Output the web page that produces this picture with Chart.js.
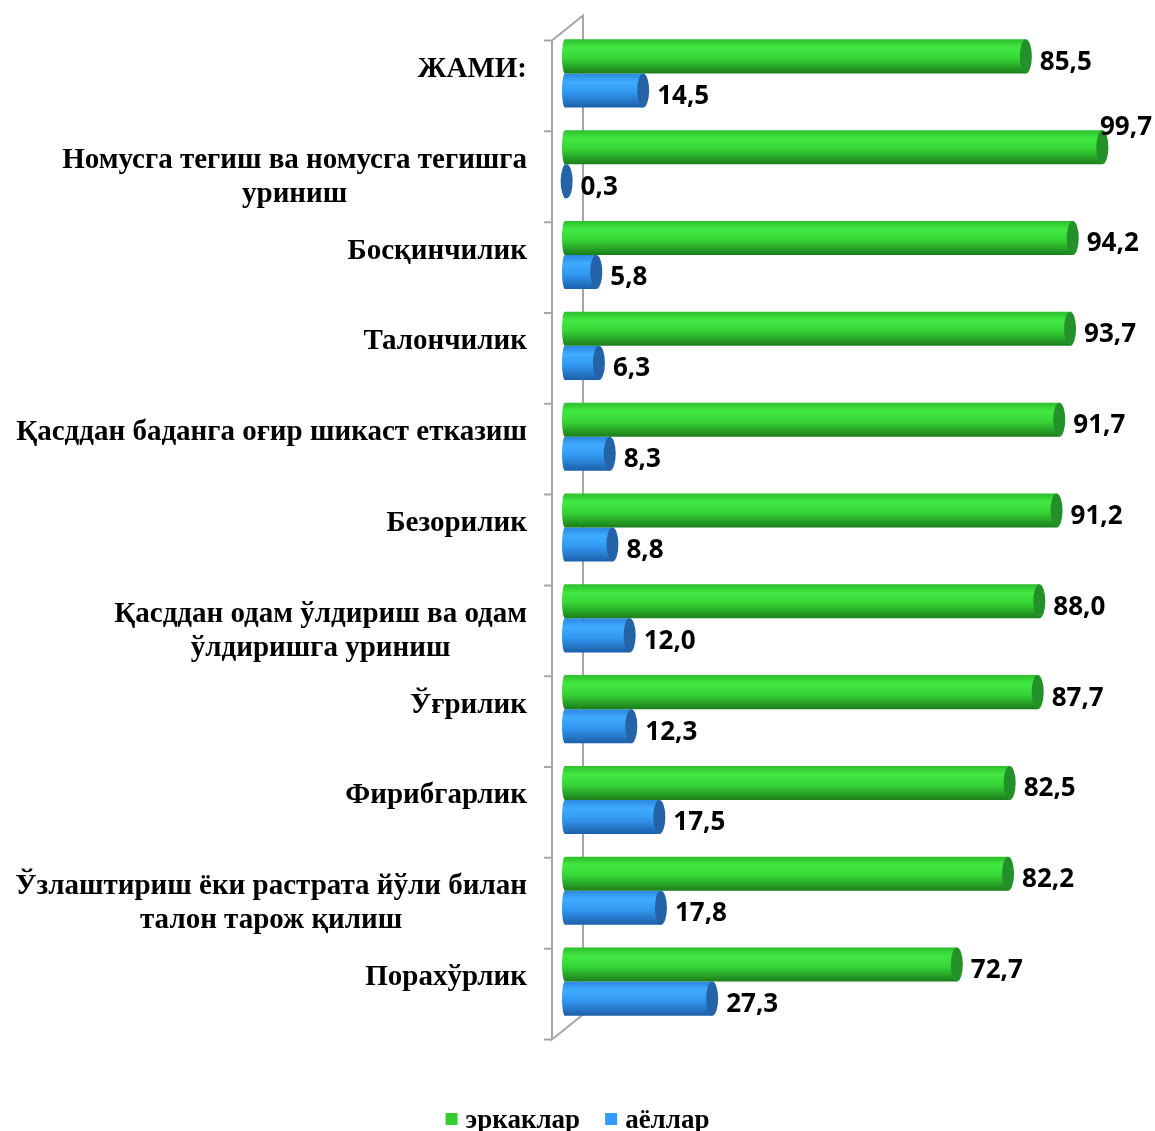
<!DOCTYPE html>
<html>
<head>
<meta charset="utf-8">
<script src="https://cdn.jsdelivr.net/npm/chart.js@4.4.0/dist/chart.umd.min.js"></script>
<style>
  html, body { margin: 0; padding: 0; background: #fff; overflow: hidden; }
  canvas { display: block; }
</style>
</head>
<body>
<canvas id="crimeChart" width="1155" height="1131"></canvas>
<script>
// categories (top to bottom)
const categories = [
  'ЖАМИ:',
  ['Номусга тегиш ва номусга тегишга', 'уриниш'],
  'Босқинчилик',
  'Талончилик',
  'Қасддан баданга оғир шикаст етказиш',
  'Безорилик',
  ['Қасддан одам ўлдириш ва одам', 'ўлдиришга уриниш'],
  'Ўғрилик',
  'Фирибгарлик',
  ['Ўзлаштириш ёки растрата йўли билан', 'талон тарож қилиш'],
  'Порахўрлик'
];

// percent values per series
const menValues = [85.5, 99.7, 94.2, 93.7, 91.7, 91.2, 88.0, 87.7, 82.5, 82.2, 72.7];
const womenValues = [14.5, 0.3, 5.8, 6.3, 8.3, 8.8, 12.0, 12.3, 17.5, 17.8, 27.3];
const seriesNames = ['эркаклар', 'аёллар'];

const serifFont = '"Liberation Serif", "DejaVu Serif", serif';
const sansFont = '"Open Sans", "Liberation Sans", sans-serif';

// cylinder shading for each series
const shades = [
  [[0, '#2cbf2c'], [0.25, '#41e841'], [0.55, '#37d637'], [1, '#1b7d1b']],
  [[0, '#2c88e2'], [0.25, '#3eabff'], [0.55, '#3399f2'], [1, '#1c5fab']]
];
const capColors = ['#23902a', '#2463a6'];
const legendColors = ['#33cc33', '#3399ff'];
const CAP_RX = 6;

function makeGradient(ctx, top, bottom, stops) {
  const g = ctx.createLinearGradient(0, top, 0, bottom);
  stops.forEach(s => g.addColorStop(s[0], s[1]));
  return g;
}

function formatValue(v) {
  return v.toFixed(1).replace('.', ',');
}

// 3D wall, cylinder ends, labels and legend
const wallPlugin = {
  id: 'wall',
  beforeDatasetsDraw(chart) {
    const ctx = chart.ctx;
    const area = chart.chartArea;
    const x0 = chart.scales.x.getPixelForValue(0);
    const frontX = x0 - 13, backX = x0 + 18;
    const dy = 12.5;
    const n = categories.length;
    const step = (area.bottom - area.top) / n;

    ctx.save();
    ctx.strokeStyle = '#a6a6a6';
    ctx.lineWidth = 2;
    ctx.beginPath();
    ctx.moveTo(frontX, area.top + dy);
    ctx.lineTo(frontX, area.bottom + dy);
    ctx.lineTo(backX, area.bottom - dy);
    ctx.lineTo(backX, area.top - dy);
    ctx.lineTo(frontX, area.top + dy);
    ctx.stroke();

    // small ticks between categories
    ctx.beginPath();
    for (let k = 0; k <= n; k++) {
      const y = area.top + dy + k * step;
      ctx.moveTo(frontX - 8, y);
      ctx.lineTo(frontX, y);
    }
    ctx.stroke();
    ctx.restore();

    // give each bar its own vertical gradient
    chart.data.datasets.forEach((ds, i) => {
      chart.getDatasetMeta(i).data.forEach(bar => {
        const top = bar.y - bar.height / 2;
        const bottom = bar.y + bar.height / 2;
        bar.options.backgroundColor = makeGradient(ctx, top, bottom, shades[i]);
      });
    });
  },
  afterDatasetsDraw(chart) {
    const ctx = chart.ctx;
    ctx.save();
    chart.data.datasets.forEach((ds, i) => {
      chart.getDatasetMeta(i).data.forEach((bar, j) => {
        const top = bar.y - bar.height / 2;
        const bottom = bar.y + bar.height / 2;
        const ry = bar.height / 2;

        // rounded left end
        ctx.fillStyle = makeGradient(ctx, top, bottom, shades[i]);
        ctx.beginPath();
        ctx.ellipse(bar.base, bar.y, 3, ry, 0, Math.PI / 2, Math.PI * 1.5);
        ctx.fill();

        // end cap
        ctx.fillStyle = capColors[i];
        ctx.beginPath();
        ctx.ellipse(bar.x, bar.y, CAP_RX, ry, 0, 0, Math.PI * 2);
        ctx.fill();

        // value label
        const txt = formatValue(ds.data[j]);
        ctx.font = 'bold 26px ' + sansFont;
        ctx.fillStyle = '#000';
        ctx.textBaseline = 'middle';
        const w = ctx.measureText(txt).width;
        let tx = bar.x + CAP_RX + 8;
        let ty = bar.y + 6;
        if (tx + w > chart.width - 2) {
          tx = chart.width - 3 - w;
          ty = top - 3;
        }
        ctx.textAlign = 'left';
        ctx.fillText(txt, tx, ty);
      });
    });
    ctx.restore();
  },
  afterDraw(chart) {
    const ctx = chart.ctx;
    const yScale = chart.scales.y;
    const right = chart.scales.x.getPixelForValue(0) - 38;
    ctx.save();

    // category labels: centered lines, block right aligned
    ctx.font = 'bold 29px ' + serifFont;
    ctx.fillStyle = '#000';
    ctx.textBaseline = 'middle';
    ctx.textAlign = 'center';
    categories.forEach((label, i) => {
      const lines = Array.isArray(label) ? label : [label];
      const blockW = Math.max(...lines.map(l => ctx.measureText(l).width));
      const cx = right - blockW / 2;
      const cy = yScale.getPixelForValue(i);
      lines.forEach((l, k) => {
        ctx.fillText(l, cx, cy - 4 + k * 34);
      });
    });

    // legend at the bottom
    ctx.font = 'bold 27px ' + serifFont;
    ctx.textAlign = 'left';
    const box = 12, gapText = 8, gapItem = 25;
    const widths = seriesNames.map(s => box + gapText + ctx.measureText(s).width);
    const total = widths.reduce((a, b) => a + b, 0) + gapItem * (seriesNames.length - 1);
    let lx = (chart.width - total) / 2;
    const ly = 1119;
    seriesNames.forEach((s, i) => {
      ctx.fillStyle = legendColors[i];
      ctx.fillRect(lx, ly - box / 2, box, box);
      ctx.fillStyle = '#000';
      ctx.fillText(s, lx + box + gapText, ly + 2);
      lx += widths[i] + gapItem;
    });
    ctx.restore();
  }
};

const chartCanvas = document.getElementById('crimeChart');

new Chart(chartCanvas, {
  type: 'bar',
  data: {
    labels: categories,
    datasets: [
      {
        label: seriesNames[0],
        data: menValues,
        backgroundColor: () => '#33d633',
        borderWidth: 0
      },
      {
        label: seriesNames[1],
        data: womenValues,
        backgroundColor: () => '#3399ff',
        borderWidth: 0
      }
    ]
  },
  options: {
    indexAxis: 'y',
    responsive: false,
    animation: false,
    layout: { padding: { top: 28, right: 51, bottom: 0, left: 0 } },
    datasets: {
      bar: { barPercentage: 1.0, categoryPercentage: 0.75 }
    },
    scales: {
      x: {
        min: 0,
        max: 100,
        ticks: { display: false },
        grid: { display: false, drawTicks: false },
        border: { display: false },
        afterFit: s => { s.height = 104; }
      },
      y: {
        ticks: { display: false },
        grid: { display: false, drawTicks: false },
        border: { display: false },
        afterFit: s => { s.width = 565; }
      }
    },
    plugins: {
      tooltip: { enabled: false },
      legend: { display: false }
    }
  },
  plugins: [wallPlugin]
});
</script>
</body>
</html>
